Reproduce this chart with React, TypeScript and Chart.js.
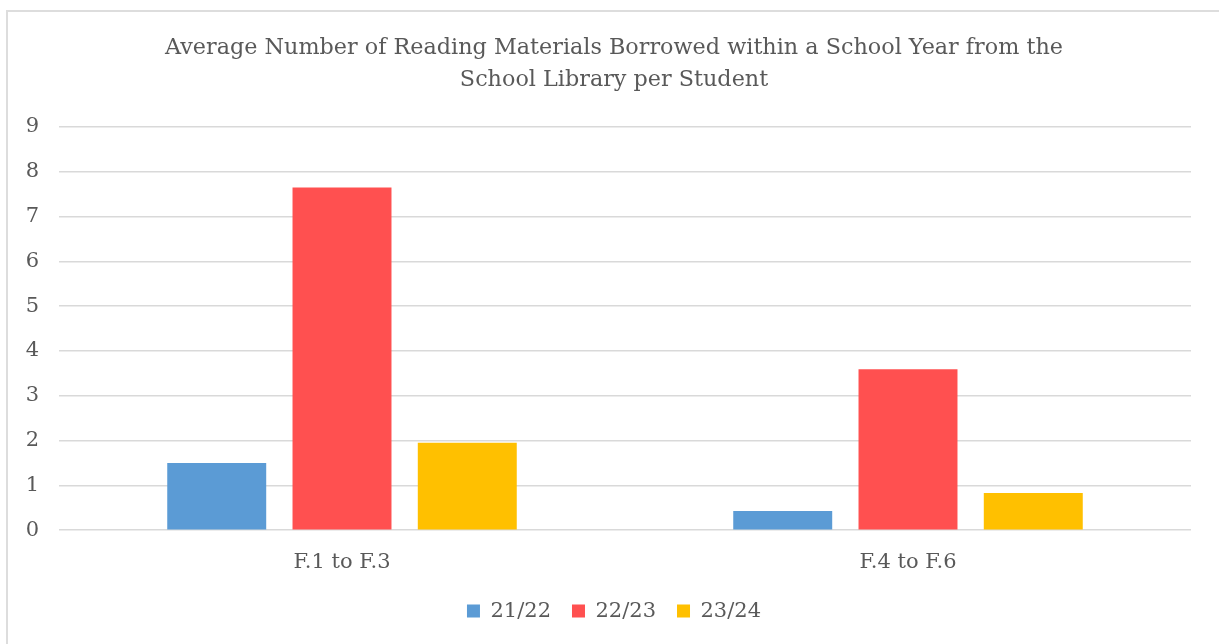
import React, { useEffect, useRef } from "react";
import { Chart, registerables } from "chart.js";

Chart.register(...registerables);

const categories = ["F.1 to F.3", "F.4 to F.6"];
const seriesNames = ["21/22", "22/23", "23/24"];
const values2122 = [1.5, 0.43];
const values2223 = [7.65, 3.59];
const values2324 = [1.95, 0.83];
const seriesColors = ["#5B9BD5", "#FF5050", "#FFC000"];
const titleLines = [
  "Average Number of Reading Materials Borrowed within a School Year from the",
  "School Library per Student",
];

const FONT = "'DejaVu Serif', 'Liberation Serif', serif";
const TEXT = "#595959";

export default function App() {
  const ref = useRef<HTMLCanvasElement | null>(null);

  useEffect(() => {
    if (!ref.current) return;
    const seriesValues = [values2122, values2223, values2324];
    const chart = new Chart(ref.current, {
      type: "bar",
      data: {
        labels: categories,
        datasets: seriesNames.map((name, i) => ({
          label: name,
          data: seriesValues[i],
          backgroundColor: seriesColors[i],
          borderWidth: 0,
          categoryPercentage: 0.664,
          barPercentage: 0.79,
          yAxisID: "y",
        })),
      },
      options: {
        responsive: false,
        animation: false,
        layout: { padding: { left: 0, right: 0, top: 0, bottom: 12.4 } },
        plugins: {
          title: {
            display: true,
            text: titleLines,
            color: TEXT,
            font: { family: FONT, size: 22.3, weight: "normal", lineHeight: 1.435 },
            padding: { top: 32, bottom: 31 },
          },
          legend: {
            position: "bottom",
            labels: {
              color: TEXT,
              font: { family: FONT, size: 21 },
              boxWidth: 13,
              boxHeight: 13,
              padding: 21,
            },
          },
          tooltip: { enabled: false },
        },
        scales: {
          x: {
            grid: { display: false, drawTicks: false },
            border: { display: false },
            ticks: { color: TEXT, font: { family: FONT, size: 21 }, padding: 19.4 },
            afterFit: (scale: any) => {
              scale.height = 49.4;
            },
          },
          y: {
            min: 0,
            max: 9,
            ticks: {
              stepSize: 1,
              color: TEXT,
              font: { family: FONT, size: 21 },
              padding: 20,
            },
            grid: { color: "#D9D9D9", lineWidth: 1.5, drawTicks: false },
            border: { display: false },
            afterFit: (scale: any) => {
              scale.width = 59;
            },
          },
          yRight: {
            position: "right",
            display: true,
            grid: { display: false, drawTicks: false },
            border: { display: false },
            ticks: { display: false },
            afterFit: (scale: any) => {
              scale.width = 37;
            },
          },
        },
      },
    });
    return () => chart.destroy();
  }, []);

  return (
    <div style={{ position: "fixed", left: 0, top: 0, width: 1219, height: 644, background: "#fff", overflow: "hidden" }}>
      <div
        style={{
          position: "absolute",
          left: 6,
          top: 10,
          width: 1240,
          height: 660,
          border: "2px solid #DDDDDD",
        }}
      />
      <canvas ref={ref} width={1228} height={644} style={{ position: "absolute", left: 0, top: 0 }} />
    </div>
  );
}
